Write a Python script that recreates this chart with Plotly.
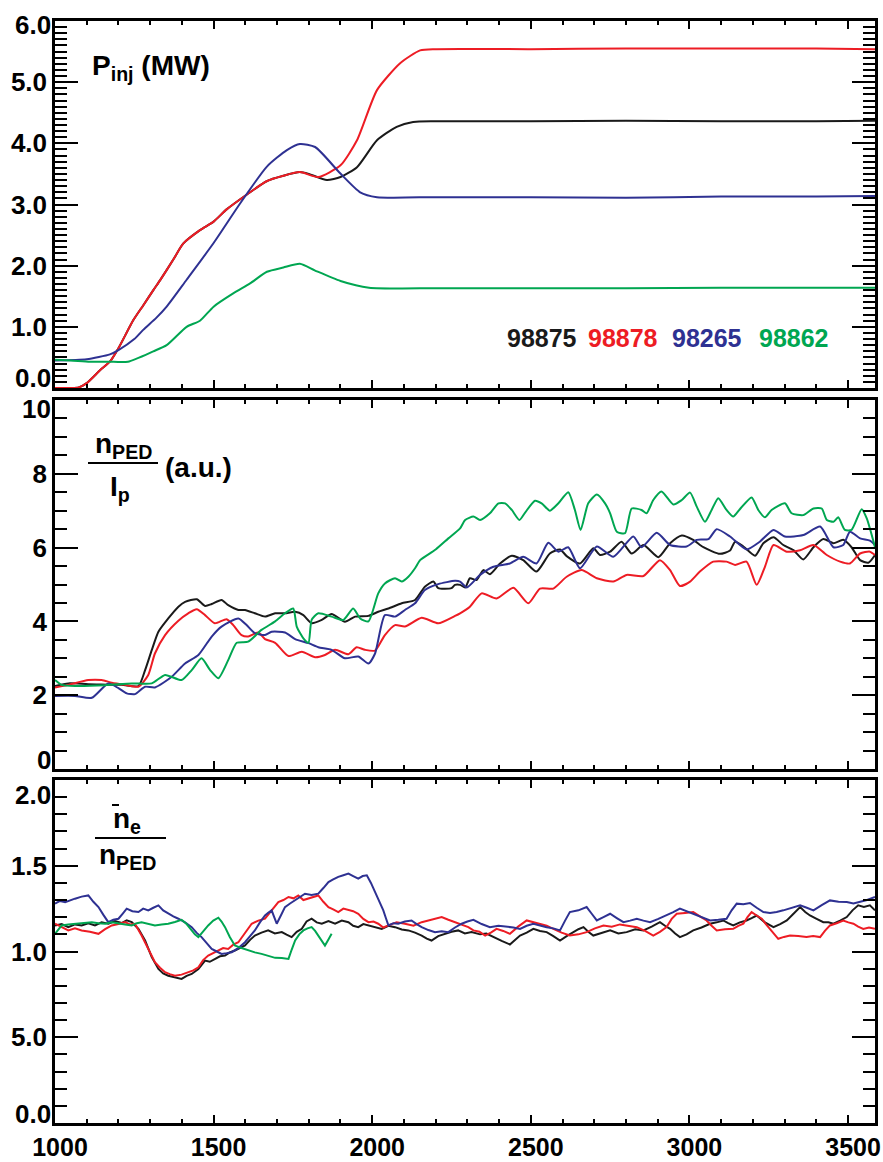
import plotly.graph_objects as go

# ---------------- data ----------------
SHOTS = ["98875", "98878", "98265", "98862"]
COLORS = ["#1a1a1a", "#ed1c24", "#2e3192", "#00a651"]

# Panel 1: P_inj (MW)   (x, value) pairs
PINJ_98875 = [(1000, 0.0), (1050, 0.0), (1075, 0.01), (1100, 0.08), (1142, 0.29), (1173, 0.43),
              (1200, 0.65), (1247, 1.11), (1278, 1.35), (1310, 1.6), (1331, 1.76), (1373, 2.1),
              (1404, 2.36), (1457, 2.58), (1500, 2.72), (1541, 2.92), (1604, 3.16), (1667, 3.38),
              (1720, 3.47), (1772, 3.53), (1800, 3.5), (1857, 3.40), (1900, 3.45), (1952, 3.61),
              (2015, 4.05), (2077, 4.27), (2129, 4.35), (2200, 4.36), (2500, 4.36), (2800, 4.37),
              (3100, 4.36), (3400, 4.36), (3585, 4.37)]
PINJ_98878 = [(1000, 0.0), (1050, 0.0), (1075, 0.01), (1100, 0.08), (1142, 0.29), (1173, 0.43),
              (1200, 0.65), (1247, 1.11), (1278, 1.35), (1310, 1.6), (1331, 1.76), (1373, 2.1),
              (1404, 2.36), (1457, 2.58), (1500, 2.72), (1541, 2.92), (1604, 3.16), (1667, 3.38),
              (1720, 3.47), (1772, 3.53), (1830, 3.45), (1900, 3.64), (1952, 4.05), (2015, 4.87),
              (2088, 5.31), (2151, 5.52), (2200, 5.54), (2500, 5.54), (2800, 5.55), (3100, 5.55),
              (3400, 5.55), (3585, 5.54)]
PINJ_98265 = [(1000, 0.45), (1100, 0.47), (1173, 0.55), (1200, 0.62), (1250, 0.8), (1278, 0.95),
              (1320, 1.15), (1352, 1.33), (1415, 1.77), (1500, 2.37), (1584, 3.02), (1668, 3.62),
              (1731, 3.89), (1772, 3.99), (1820, 3.94), (1899, 3.51), (1962, 3.20), (2015, 3.12),
              (2200, 3.12), (2500, 3.12), (2800, 3.11), (3100, 3.13), (3400, 3.13), (3585, 3.14)]
PINJ_98862 = [(1000, 0.46), (1050, 0.45), (1110, 0.43), (1170, 0.43), (1230, 0.43), (1310, 0.60),
              (1352, 0.70), (1415, 1.0), (1457, 1.1), (1500, 1.33), (1563, 1.55), (1615, 1.71),
              (1668, 1.90), (1720, 1.97), (1772, 2.03), (1820, 1.92), (1900, 1.75), (1990, 1.64),
              (2200, 1.63), (2500, 1.63), (2800, 1.63), (3100, 1.64), (3400, 1.64), (3585, 1.64)]

# Panel 2: n_PED / I_p (a.u.)
NPED_98875 = [(1000, 2.25), (1042, 2.32), (1105, 2.30), (1210, 2.28), (1263, 2.25), (1284, 2.68),
              (1305, 3.22), (1326, 3.72), (1357, 4.08), (1389, 4.40), (1410, 4.53), (1447, 4.60),
              (1473, 4.42), (1494, 4.47), (1525, 4.58), (1546, 4.44), (1578, 4.31), (1599, 4.31),
              (1630, 4.22), (1662, 4.13), (1694, 4.22), (1725, 4.22), (1757, 4.26), (1783, 4.17),
              (1809, 3.95), (1841, 4.04), (1872, 4.20), (1914, 3.99), (1946, 4.13), (1988, 4.15),
              (2019, 4.26), (2051, 4.35), (2093, 4.49), (2135, 4.58), (2166, 4.94), (2193, 5.08),
              (2208, 4.90), (2250, 4.90), (2261, 4.99), (2277, 4.99), (2293, 4.92), (2308, 5.17),
              (2329, 5.12), (2350, 5.39), (2371, 5.28), (2403, 5.57), (2440, 5.78), (2476, 5.66),
              (2518, 5.35), (2560, 5.84), (2592, 5.95), (2613, 5.77), (2655, 5.57), (2697, 5.98),
              (2718, 5.80), (2750, 5.89), (2786, 6.16), (2818, 5.84), (2855, 6.07), (2902, 5.74),
              (2939, 6.12), (2976, 6.33), (3012, 6.21), (3044, 6.01), (3096, 5.83), (3128, 5.92),
              (3144, 6.16), (3170, 6.03), (3207, 5.78), (3233, 6.12), (3265, 6.28), (3296, 6.07),
              (3328, 5.93), (3359, 5.68), (3391, 6.01), (3422, 6.23), (3454, 6.12), (3485, 6.21),
              (3511, 6.01), (3538, 5.66), (3564, 5.59), (3585, 5.80)]
NPED_98878 = [(1000, 2.21), (1042, 2.28), (1105, 2.41), (1147, 2.41), (1179, 2.34), (1221, 2.28),
              (1263, 2.23), (1294, 2.55), (1315, 3.13), (1347, 3.63), (1389, 4.02), (1420, 4.22),
              (1447, 4.33), (1473, 4.17), (1504, 3.95), (1541, 4.06), (1562, 3.90), (1588, 3.63),
              (1609, 3.59), (1641, 3.70), (1662, 3.52), (1694, 3.42), (1736, 3.06), (1778, 3.18),
              (1820, 3.03), (1851, 3.09), (1883, 3.23), (1925, 3.11), (1951, 3.30), (1977, 3.23),
              (2009, 3.21), (2040, 3.63), (2072, 3.90), (2103, 3.86), (2156, 4.10), (2208, 3.95),
              (2261, 4.15), (2277, 4.22), (2308, 4.40), (2345, 4.76), (2392, 4.62), (2445, 4.91),
              (2492, 4.49), (2529, 4.89), (2571, 4.89), (2613, 5.21), (2660, 5.39), (2708, 5.17),
              (2760, 5.08), (2802, 5.26), (2855, 5.23), (2907, 5.66), (2939, 5.39), (2970, 4.96),
              (3002, 5.08), (3033, 5.35), (3075, 5.62), (3117, 5.62), (3144, 5.53), (3180, 5.62),
              (3212, 4.99), (3238, 5.48), (3265, 6.07), (3307, 5.89), (3349, 5.93), (3391, 6.07),
              (3433, 5.80), (3475, 5.62), (3506, 5.57), (3538, 5.84), (3569, 5.89), (3585, 5.80)]
NPED_98265 = [(1000, 1.98), (1063, 1.98), (1116, 1.93), (1168, 2.32), (1200, 2.19), (1226, 2.05),
              (1252, 2.03), (1284, 2.23), (1315, 2.21), (1368, 2.50), (1410, 2.86), (1452, 3.09),
              (1494, 3.59), (1525, 3.86), (1578, 4.08), (1604, 3.90), (1630, 3.68), (1662, 3.63),
              (1683, 3.72), (1725, 3.70), (1757, 3.52), (1799, 3.41), (1830, 3.30), (1872, 3.23),
              (1914, 3.00), (1956, 3.05), (1988, 2.86), (2009, 3.13), (2040, 4.17), (2072, 4.13),
              (2103, 4.31), (2135, 4.49), (2166, 4.85), (2208, 5.01), (2261, 5.10), (2277, 5.08),
              (2298, 4.92), (2340, 5.26), (2382, 5.48), (2434, 5.57), (2476, 5.75), (2518, 5.57),
              (2555, 6.13), (2587, 5.89), (2618, 6.01), (2655, 5.44), (2708, 6.03), (2760, 5.75),
              (2823, 6.30), (2849, 6.01), (2897, 6.40), (2939, 6.07), (2991, 6.03), (3023, 6.21),
              (3060, 6.23), (3086, 6.50), (3128, 6.30), (3180, 5.95), (3222, 6.16), (3265, 6.48),
              (3301, 6.30), (3359, 6.34), (3412, 6.57), (3454, 6.01), (3485, 6.07), (3506, 6.43),
              (3538, 6.25), (3569, 6.19), (3585, 6.07)]
NPED_98862 = [(1000, 2.41), (1021, 2.28), (1063, 2.25), (1158, 2.27), (1242, 2.32), (1305, 2.32),
              (1347, 2.55), (1399, 2.41), (1431, 2.68), (1462, 3.00), (1489, 2.68), (1515, 2.46),
              (1546, 2.95), (1573, 3.42), (1609, 3.45), (1651, 3.77), (1694, 4.00), (1725, 4.22),
              (1751, 4.35), (1762, 3.86), (1783, 3.54), (1799, 3.42), (1809, 4.04), (1830, 4.22),
              (1872, 4.13), (1909, 4.04), (1940, 4.35), (1962, 4.08), (1988, 4.00), (2019, 4.76),
              (2040, 5.03), (2072, 5.17), (2093, 5.08), (2114, 5.21), (2135, 5.44), (2151, 5.66),
              (2200, 5.95), (2240, 6.25), (2277, 6.52), (2293, 6.75), (2319, 6.84), (2340, 6.75),
              (2371, 6.93), (2398, 7.20), (2419, 7.20), (2440, 7.02), (2464, 6.75), (2482, 6.95),
              (2513, 7.27), (2534, 7.20), (2560, 7.00), (2587, 7.20), (2618, 7.50), (2639, 7.02),
              (2657, 6.48), (2681, 7.20), (2708, 7.44), (2734, 7.20), (2750, 6.93), (2771, 6.43),
              (2797, 6.39), (2818, 7.06), (2849, 7.02), (2865, 6.93), (2886, 7.29), (2912, 7.52),
              (2949, 7.17), (2976, 7.29), (3002, 7.49), (3023, 7.11), (3049, 6.70), (3070, 7.02),
              (3091, 7.34), (3117, 7.02), (3138, 6.84), (3159, 7.04), (3196, 7.36), (3217, 7.02),
              (3238, 6.82), (3259, 7.02), (3301, 7.20), (3322, 6.93), (3359, 6.88), (3391, 7.06),
              (3417, 7.06), (3433, 6.75), (3454, 6.70), (3469, 6.82), (3490, 6.48), (3511, 6.48),
              (3543, 7.04), (3559, 6.79), (3585, 6.01)]

# Panel 3: n_e(bar) / n_PED
NE_98875 = [(1000, 1.152), (1021, 1.160), (1042, 1.142), (1063, 1.158), (1084, 1.152), (1105, 1.165),
            (1126, 1.152), (1147, 1.170), (1168, 1.162), (1189, 1.178), (1210, 1.166), (1226, 1.182),
            (1242, 1.171), (1263, 1.132), (1284, 1.064), (1305, 0.967), (1326, 0.898), (1341, 0.872),
            (1357, 0.859), (1378, 0.850), (1399, 0.840), (1415, 0.858), (1431, 0.869), (1452, 0.898),
            (1473, 0.947), (1488, 0.940), (1504, 0.957), (1520, 0.972), (1536, 0.976), (1551, 0.995),
            (1567, 1.006), (1583, 1.020), (1599, 1.035), (1615, 1.068), (1630, 1.093), (1651, 1.110),
            (1672, 1.123), (1693, 1.105), (1715, 1.113), (1730, 1.098), (1746, 1.084), (1762, 1.115),
            (1778, 1.132), (1793, 1.175), (1809, 1.191), (1825, 1.170), (1841, 1.162), (1862, 1.178),
            (1883, 1.162), (1904, 1.180), (1925, 1.171), (1940, 1.150), (1956, 1.142), (1972, 1.160),
            (1988, 1.152), (2009, 1.140), (2030, 1.132), (2051, 1.150), (2072, 1.142), (2093, 1.128),
            (2114, 1.123), (2135, 1.110), (2156, 1.093), (2172, 1.075), (2187, 1.064), (2208, 1.090),
            (2229, 1.103), (2250, 1.115), (2271, 1.123), (2292, 1.105), (2313, 1.113), (2340, 1.100),
            (2360, 1.105), (2382, 1.084), (2408, 1.062), (2434, 1.041), (2450, 1.070), (2466, 1.093),
            (2487, 1.110), (2508, 1.132), (2529, 1.120), (2550, 1.113), (2571, 1.090), (2592, 1.064),
            (2613, 1.090), (2634, 1.113), (2650, 1.130), (2666, 1.142), (2681, 1.115), (2697, 1.093),
            (2723, 1.110), (2750, 1.123), (2776, 1.105), (2802, 1.113), (2829, 1.130), (2855, 1.123),
            (2881, 1.145), (2907, 1.171), (2923, 1.150), (2939, 1.132), (2955, 1.105), (2970, 1.084),
            (2991, 1.100), (3012, 1.123), (3038, 1.140), (3065, 1.162), (3086, 1.170), (3107, 1.181),
            (3122, 1.165), (3138, 1.152), (3159, 1.170), (3180, 1.181), (3196, 1.195), (3212, 1.210),
            (3238, 1.170), (3265, 1.142), (3286, 1.160), (3307, 1.181), (3328, 1.220), (3349, 1.259),
            (3365, 1.230), (3380, 1.210), (3401, 1.190), (3422, 1.171), (3438, 1.170), (3454, 1.162),
            (3475, 1.180), (3496, 1.201), (3514, 1.240), (3532, 1.269), (3550, 1.260), (3569, 1.269),
            (3585, 1.240)]
NE_98878 = [(1000, 1.162), (1021, 1.140), (1042, 1.123), (1063, 1.135), (1084, 1.123), (1110, 1.115),
            (1137, 1.103), (1158, 1.130), (1179, 1.152), (1200, 1.160), (1221, 1.171), (1236, 1.158),
            (1252, 1.162), (1273, 1.093), (1294, 1.015), (1315, 0.937), (1331, 0.905), (1347, 0.879),
            (1362, 0.868), (1378, 0.859), (1399, 0.865), (1420, 0.879), (1436, 0.890), (1452, 0.908),
            (1467, 0.950), (1483, 0.976), (1499, 0.990), (1515, 1.006), (1530, 1.020), (1546, 1.015),
            (1562, 1.040), (1578, 1.054), (1599, 1.110), (1620, 1.162), (1641, 1.180), (1662, 1.191),
            (1683, 1.240), (1704, 1.288), (1720, 1.300), (1736, 1.318), (1752, 1.310), (1767, 1.327),
            (1783, 1.300), (1799, 1.308), (1815, 1.320), (1830, 1.327), (1846, 1.290), (1862, 1.259),
            (1877, 1.245), (1893, 1.230), (1909, 1.250), (1925, 1.240), (1940, 1.235), (1956, 1.220),
            (1972, 1.190), (1988, 1.171), (2004, 1.175), (2019, 1.162), (2035, 1.140), (2051, 1.152),
            (2077, 1.170), (2103, 1.162), (2130, 1.150), (2156, 1.171), (2187, 1.185), (2219, 1.201),
            (2240, 1.185), (2261, 1.171), (2282, 1.160), (2303, 1.142), (2319, 1.123), (2338, 1.115),
            (2356, 1.093), (2374, 1.110), (2392, 1.132), (2413, 1.120), (2434, 1.103), (2460, 1.145),
            (2487, 1.181), (2508, 1.170), (2529, 1.162), (2550, 1.150), (2571, 1.132), (2597, 1.110),
            (2623, 1.093), (2650, 1.100), (2676, 1.113), (2702, 1.135), (2729, 1.152), (2755, 1.145),
            (2781, 1.158), (2808, 1.150), (2834, 1.142), (2860, 1.120), (2886, 1.093), (2907, 1.115),
            (2928, 1.142), (2944, 1.190), (2960, 1.220), (2986, 1.225), (3012, 1.230), (3033, 1.205),
            (3054, 1.181), (3070, 1.150), (3086, 1.123), (3112, 1.130), (3138, 1.132), (3154, 1.150),
            (3170, 1.162), (3183, 1.200), (3196, 1.230), (3212, 1.210), (3228, 1.191), (3241, 1.160),
            (3254, 1.132), (3267, 1.100), (3280, 1.074), (3298, 1.085), (3317, 1.093), (3343, 1.090),
            (3369, 1.084), (3390, 1.090), (3412, 1.084), (3427, 1.120), (3443, 1.152), (3464, 1.165),
            (3485, 1.181), (3501, 1.170), (3517, 1.162), (3532, 1.145), (3548, 1.132), (3566, 1.140),
            (3585, 1.132)]
NE_98265 = [(1000, 1.279), (1016, 1.295), (1032, 1.288), (1048, 1.300), (1063, 1.308), (1084, 1.320),
            (1105, 1.327), (1121, 1.290), (1137, 1.259), (1152, 1.215), (1168, 1.171), (1184, 1.185),
            (1200, 1.191), (1213, 1.220), (1226, 1.250), (1244, 1.235), (1263, 1.230), (1278, 1.250),
            (1294, 1.240), (1310, 1.255), (1326, 1.269), (1341, 1.240), (1357, 1.220), (1373, 1.205),
            (1389, 1.191), (1410, 1.170), (1431, 1.142), (1446, 1.110), (1462, 1.084), (1478, 1.050),
            (1494, 1.015), (1510, 1.000), (1525, 0.986), (1541, 0.990), (1557, 0.996), (1578, 1.020),
            (1599, 1.054), (1615, 1.090), (1630, 1.123), (1646, 1.170), (1662, 1.210), (1672, 1.225),
            (1683, 1.240), (1691, 1.200), (1699, 1.162), (1712, 1.210), (1725, 1.259), (1741, 1.280),
            (1757, 1.298), (1772, 1.320), (1788, 1.337), (1809, 1.330), (1830, 1.337), (1846, 1.370),
            (1862, 1.405), (1877, 1.420), (1893, 1.435), (1909, 1.445), (1925, 1.454), (1940, 1.440),
            (1956, 1.425), (1970, 1.440), (1983, 1.444), (1996, 1.400), (2009, 1.347), (2022, 1.290),
            (2035, 1.240), (2043, 1.195), (2051, 1.152), (2067, 1.165), (2082, 1.162), (2103, 1.175),
            (2124, 1.181), (2140, 1.160), (2156, 1.142), (2177, 1.125), (2198, 1.113), (2219, 1.118),
            (2240, 1.113), (2261, 1.140), (2282, 1.162), (2300, 1.175), (2319, 1.185), (2345, 1.160),
            (2371, 1.142), (2398, 1.150), (2424, 1.146), (2445, 1.140), (2466, 1.132), (2487, 1.150),
            (2508, 1.162), (2529, 1.150), (2550, 1.142), (2571, 1.135), (2592, 1.123), (2608, 1.180),
            (2623, 1.230), (2650, 1.240), (2676, 1.259), (2692, 1.220), (2708, 1.181), (2729, 1.200),
            (2750, 1.220), (2771, 1.195), (2792, 1.171), (2813, 1.180), (2834, 1.191), (2855, 1.180),
            (2876, 1.171), (2902, 1.190), (2928, 1.210), (2949, 1.230), (2970, 1.250), (2991, 1.235),
            (3012, 1.220), (3038, 1.200), (3065, 1.181), (3091, 1.185), (3117, 1.191), (3133, 1.240),
            (3149, 1.279), (3170, 1.275), (3191, 1.283), (3212, 1.255), (3233, 1.230), (3254, 1.225),
            (3275, 1.230), (3296, 1.240), (3317, 1.250), (3333, 1.260), (3349, 1.269), (3370, 1.255),
            (3391, 1.240), (3417, 1.270), (3443, 1.298), (3470, 1.290), (3496, 1.288), (3517, 1.280),
            (3538, 1.288), (3560, 1.300), (3585, 1.318)]
NE_98862 = [(1000, 1.103), (1010, 1.130), (1021, 1.152), (1042, 1.158), (1063, 1.162), (1090, 1.168),
            (1116, 1.171), (1137, 1.165), (1158, 1.162), (1179, 1.170), (1200, 1.162), (1221, 1.158),
            (1242, 1.152), (1258, 1.165), (1273, 1.171), (1294, 1.160), (1315, 1.152), (1336, 1.158),
            (1357, 1.162), (1378, 1.172), (1399, 1.185), (1415, 1.160), (1431, 1.123), (1441, 1.100),
            (1452, 1.084), (1467, 1.120), (1483, 1.152), (1499, 1.180), (1515, 1.197), (1525, 1.175),
            (1536, 1.142), (1551, 1.085), (1567, 1.035), (1588, 1.020), (1609, 1.006), (1630, 0.995),
            (1651, 0.986), (1672, 0.975), (1694, 0.963), (1715, 0.962), (1736, 0.957), (1746, 1.010),
            (1757, 1.064), (1770, 1.100), (1783, 1.123), (1796, 1.135), (1809, 1.142), (1820, 1.120),
            (1830, 1.093), (1841, 1.060), (1851, 1.035), (1862, 1.070), (1872, 1.103)]

X_RANGE = [1000, 3585]
X_TICKS = [1000, 1500, 2000, 2500, 3000, 3500]
X_TICK_TEXT = ["1000", "1500", "2000", "2500", "3000", "3500"]
Y1_TICKS = [1, 2, 3, 4, 5]
Y1_TICK_TEXT = ["1.0", "2.0", "3.0", "4.0", "5.0"]
Y2_TICKS = [2, 4, 6, 8]
Y2_TICK_TEXT = ["2", "4", "6", "8"]
Y3_TICKS = [0.5, 1.0, 1.5]
Y3_TICK_TEXT = ["5.0", "1.0", "1.5"]
# end-of-axis labels (value, text, vertical nudge) drawn as annotations
Y1_END = [(6, "6.0", -4), (0, "0.0", 10)]
Y2_END = [(10, "10", -9), (0, "0", 9)]
Y3_END = [(2, "2.0", -15), (0, "0.0", 9)]

# ---------------- figure ----------------
W, H = 883, 1162
ML, MR, MT, MB = 55, 8, 21, 39
PW, PH = W - ML - MR, H - MT - MB
FONT = "Liberation Sans, Arial, Helvetica, sans-serif"


def px_x(px):
    return (px - ML) / PW


def px_y(py):
    return (H - MB - py) / PH


fig = go.Figure()

panels = [
    ([PINJ_98875, PINJ_98878, PINJ_98265, PINJ_98862], "x", "y", "spline"),
    ([NPED_98875, NPED_98878, NPED_98265, NPED_98862], "x2", "y2", "spline"),
    ([NE_98875, NE_98878, NE_98265, NE_98862], "x3", "y3", "linear"),
]
for series, xa, ya, shape in panels:
    for pts, name, col in zip(series, SHOTS, COLORS):
        xs = [p[0] for p in pts]
        ys = [p[1] for p in pts]
        line = dict(color=col, width=2, shape=shape)
        if shape == "spline":
            line["smoothing"] = 0.6
        fig.add_trace(go.Scatter(x=xs, y=ys, mode="lines", name=name, line=line,
                                 xaxis=xa, yaxis=ya, showlegend=False, cliponaxis=False))

xtickfont = dict(family=FONT, size=25, color="black", weight="bold")
ytickfont = dict(family=FONT, size=26, color="black", weight="bold")


def xaxis(anchor, show_labels):
    return dict(anchor=anchor, domain=[0, 1], range=X_RANGE, showline=True, linewidth=2.5,
                linecolor="black", mirror="ticks", ticks="inside", ticklen=8, tickwidth=2,
                tickcolor="black", tickmode="array", tickvals=X_TICKS, ticktext=X_TICK_TEXT,
                showticklabels=show_labels, tickfont=xtickfont, showgrid=False, zeroline=False,
                automargin=False, ticklabelshift=5,
                minor=dict(ticks="inside", dtick=100, tick0=1000, ticklen=4, tickwidth=1.5,
                           tickcolor="black", showgrid=False))


def yaxis(anchor, dom, rng, vals, text, minor_dtick):
    return dict(anchor=anchor, domain=dom, range=rng, showline=True, linewidth=2.5,
                linecolor="black", mirror="ticks", ticks="inside", ticklen=23, tickwidth=2,
                tickcolor="black", tickmode="array", tickvals=vals, ticktext=text,
                tickfont=ytickfont, showgrid=False, zeroline=False, automargin=False,
                minor=dict(ticks="inside", dtick=minor_dtick, tick0=0, ticklen=12, tickwidth=1.5,
                           tickcolor="black", showgrid=False))


fig.update_layout(
    width=W, height=H, template="none",
    paper_bgcolor="white", plot_bgcolor="white",
    margin=dict(l=ML, r=MR, t=MT, b=MB, pad=0),
    xaxis=xaxis("y", False),
    xaxis2=xaxis("y2", False),
    xaxis3=xaxis("y3", True),
    yaxis=yaxis("x", [px_y(388), 1.0], [0, 6], Y1_TICKS, Y1_TICK_TEXT, 0.1),
    yaxis2=yaxis("x2", [px_y(769), px_y(400)], [0, 10], Y2_TICKS, Y2_TICK_TEXT, 0.5),
    yaxis3=yaxis("x3", [0, px_y(780)], [0, 2], Y3_TICKS, Y3_TICK_TEXT, 0.1),
    showlegend=False,
)

lab = dict(family=FONT, size=28, color="black", weight="bold")
ann = []
for ends, yref in [(Y1_END, "y"), (Y2_END, "y2"), (Y3_END, "y3")]:
    for v, t, dy in ends:
        ann.append(dict(x=0, xref="paper", y=v, yref=yref, text=t, showarrow=False,
                        xanchor="right", yanchor="middle", xshift=-2, yshift=dy, font=ytickfont))

# panel titles
ann.append(dict(x=px_x(90), y=px_y(68), xref="paper", yref="paper", text="P<sub>inj</sub> (MW)",
                showarrow=False, xanchor="left", yanchor="middle", font=lab))
ann.append(dict(x=px_x(123), y=px_y(446), xref="paper", yref="paper", text="n<sub>PED</sub>",
                showarrow=False, xanchor="center", yanchor="middle", font=lab))
ann.append(dict(x=px_x(120), y=px_y(488), xref="paper", yref="paper", text="I<sub>p</sub>",
                showarrow=False, xanchor="center", yanchor="middle", font=lab))
ann.append(dict(x=px_x(163), y=px_y(467), xref="paper", yref="paper", text="(a.u.)",
                showarrow=False, xanchor="left", yanchor="middle", font=lab))
ann.append(dict(x=px_x(127), y=px_y(820), xref="paper", yref="paper", text="n<sub>e</sub>",
                showarrow=False, xanchor="center", yanchor="middle", font=lab))
ann.append(dict(x=px_x(127), y=px_y(856), xref="paper", yref="paper", text="n<sub>PED</sub>",
                showarrow=False, xanchor="center", yanchor="middle", font=lab))

# shot-number legend
for cx, name, col in zip([542, 623, 707, 794], SHOTS, COLORS):
    ann.append(dict(x=px_x(cx), y=px_y(338), xref="paper", yref="paper", text=name,
                    showarrow=False, xanchor="center", yanchor="middle",
                    font=dict(family=FONT, size=25, color=col, weight="bold")))

fig.update_layout(annotations=ann)

shapes = [
    dict(type="line", xref="paper", yref="paper", x0=px_x(88), x1=px_x(158),
         y0=px_y(463), y1=px_y(463), line=dict(color="black", width=2)),
    dict(type="line", xref="paper", yref="paper", x0=px_x(95), x1=px_x(166),
         y0=px_y(838), y1=px_y(838), line=dict(color="black", width=2)),
    dict(type="line", xref="paper", yref="paper", x0=px_x(112), x1=px_x(119),
         y0=px_y(805), y1=px_y(805), line=dict(color="black", width=2)),
]
fig.update_layout(shapes=shapes)

fig.write_html("out.html")
